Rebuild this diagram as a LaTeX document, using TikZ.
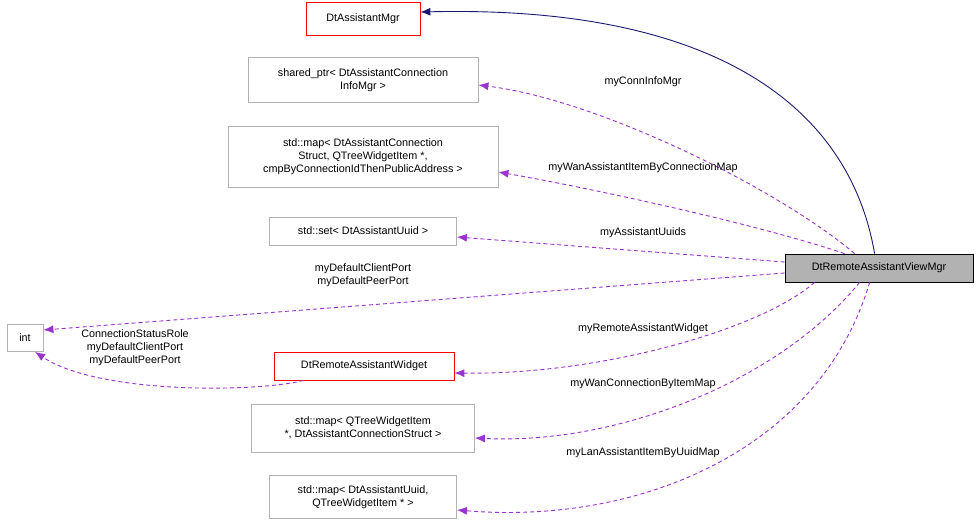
\documentclass[tikz,border=0pt]{standalone}
\usepackage{fontspec}
\setmainfont{Liberation Sans}
\usetikzlibrary{arrows.meta}
\definecolor{dc}{HTML}{9A32CD}
\definecolor{nv}{HTML}{191970}
\begin{document}
\begin{tikzpicture}[x=1pt,y=-1pt,line width=0.9pt,
  box/.style={draw=gray!60,fill=white,align=center,inner sep=0pt,font=\fontsize{10.8}{13}\selectfont,line width=0.8pt},
  red/.style={box,draw=red},
  dep/.style={draw=dc,dash pattern=on 4pt off 3pt,-{Latex[length=10pt,width=8pt]}},
  inh/.style={draw=nv,-{Latex[length=10pt,width=8pt]}},
  lab/.style={font=\fontsize{10.8}{13}\selectfont,align=center}]
\useasboundingbox (0,0) rectangle (979,525);
\node[red,minimum width=114,minimum height=33] (mgr) at (363,19) {DtAssistantMgr};
\node[box,minimum width=230,minimum height=45] (sp) at (363,80) {shared\_ptr< DtAssistantConnection\\InfoMgr >};
\node[box,minimum width=270,minimum height=61] (m1) at (363,157) {std::map< DtAssistantConnection\\Struct, QTreeWidgetItem *,\\ cmpByConnectionIdThenPublicAddress >};
\node[box,minimum width=187,minimum height=28] (st) at (363,231) {std::set< DtAssistantUuid >};
\node[box,minimum width=36,minimum height=27] (int) at (25,338) {int};
\node[red,minimum width=180,minimum height=28] (w) at (364,366) {DtRemoteAssistantWidget};
\node[box,minimum width=223,minimum height=48] (m2) at (363,428) {std::map< QTreeWidgetItem\\ *, DtAssistantConnectionStruct >};
\node[box,minimum width=187,minimum height=43] (m3) at (363,497) {std::map< DtAssistantUuid,\\QTreeWidgetItem * >};
\node[box,draw=black,fill=gray!60,minimum width=188,minimum height=28] (v) at (879,268) {DtRemoteAssistantViewMgr};

\draw[inh] ([xshift=90pt]v.north west) .. controls (850,110) and (720,5) .. ([yshift=7pt]mgr.east);
\draw[dep] ([xshift=70pt]v.north west) .. controls (780,190) and (600,100) .. ([yshift=-5pt]sp.east);
\draw[dep] ([xshift=60pt]v.north west) .. controls (760,225) and (600,190) .. ([yshift=-15pt]m1.east);
\draw[dep] ([yshift=6pt]v.west) -- ([yshift=-6pt]st.east);
\draw[dep] ([yshift=-5pt]v.west) -- ([yshift=8pt]int.east);
\draw[dep] ([xshift=30pt]v.south west) .. controls (760,330) and (600,375) .. ([yshift=-7pt]w.east);
\draw[dep] ([xshift=75pt]v.south west) .. controls (780,380) and (620,445) .. ([yshift=-10pt]m2.east);
\draw[dep] ([xshift=85pt]v.south west) .. controls (820,450) and (640,525) .. ([yshift=-13pt]m3.east);
\draw[dep] ([xshift=30pt]w.south west) .. controls (260,392) and (100,395) .. ([xshift=10pt]int.south);

\node[lab] at (643,82) {myConnInfoMgr};
\node[lab] at (643,168) {myWanAssistantItemByConnectionMap};
\node[lab] at (643,233) {myAssistantUuids};
\node[lab] at (363,275) {myDefaultClientPort\\myDefaultPeerPort};
\node[lab] at (643,329) {myRemoteAssistantWidget};
\node[lab] at (643,384) {myWanConnectionByItemMap};
\node[lab] at (643,453) {myLanAssistantItemByUuidMap};
\node[lab] at (135,348) {ConnectionStatusRole\\myDefaultClientPort\\myDefaultPeerPort};
\end{tikzpicture}
\end{document}
